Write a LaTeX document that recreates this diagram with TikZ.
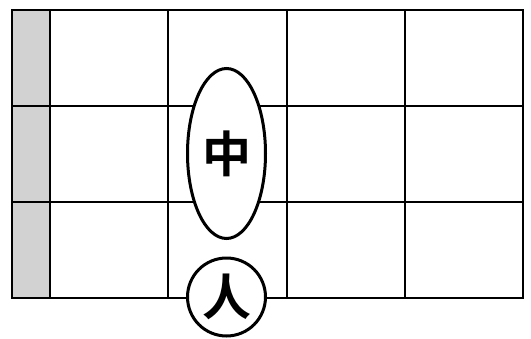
\documentclass[tikz,border=0pt]{standalone}
\usepackage{fontspec}
\newfontfamily\cjk{Noto Sans CJK SC}[BoldFont={Noto Sans CJK SC Bold}]
\usepackage{tikz}
\usetikzlibrary{shapes.geometric,positioning}

\begin{document}
\begin{tikzpicture}[x=1pt,y=-1pt,
    gridline/.style={draw=black,line width=1.6pt},
    stone/.style={draw=black,fill=white,line width=3pt,inner sep=0pt,
      font=\cjk\bfseries\fontsize{49}{49}\selectfont}]
  \useasboundingbox (0,0) rectangle (531,338);
  \def\t{10}
  \def\b{298}
  % gray strip
  \filldraw[fill=gray!35,gridline] (12,\t) rectangle (50,\b);
  % grid
  \draw[gridline] (12,\t) rectangle (523,\b);
  \draw[gridline] (50,106) -- (523,106);
  \draw[gridline] (50,202) -- (523,202);
  \draw[gridline] (12,106) -- (50,106);
  \draw[gridline] (12,202) -- (50,202);
  \foreach \x in {168,287,405}
    \draw[gridline] (\x,\t) -- (\x,\b);
  % pieces
  \node[stone,ellipse,minimum width=78pt,minimum height=170pt] (zhong) at (226.5,153.5) {中};
  \node[stone,circle,minimum size=78pt] (ren) at (226.5,297) {人};
\end{tikzpicture}
\end{document}
